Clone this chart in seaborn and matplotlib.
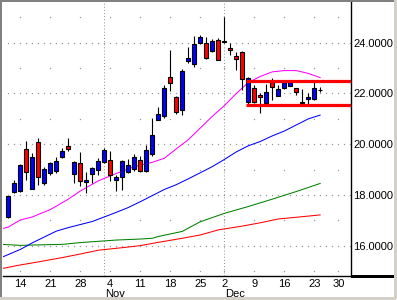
import numpy as np
import pandas as pd
import matplotlib
matplotlib.use("Agg")
import matplotlib.pyplot as plt
from matplotlib.lines import Line2D
import seaborn as sns

# ---------------- data ----------------
dates = ["2002-10-10", "2002-10-11", "2002-10-14", "2002-10-15", "2002-10-16", "2002-10-17",
         "2002-10-18", "2002-10-21", "2002-10-22", "2002-10-23", "2002-10-24", "2002-10-25",
         "2002-10-28", "2002-10-29", "2002-10-30", "2002-10-31", "2002-11-01", "2002-11-04",
         "2002-11-05", "2002-11-06", "2002-11-07", "2002-11-08", "2002-11-11", "2002-11-12",
         "2002-11-13", "2002-11-14", "2002-11-15", "2002-11-18", "2002-11-19", "2002-11-20",
         "2002-11-21", "2002-11-22", "2002-11-25", "2002-11-26", "2002-11-27", "2002-11-29",
         "2002-12-02", "2002-12-03", "2002-12-04", "2002-12-05", "2002-12-06", "2002-12-09",
         "2002-12-10", "2002-12-11", "2002-12-12", "2002-12-13", "2002-12-16", "2002-12-17",
         "2002-12-18", "2002-12-19", "2002-12-20", "2002-12-23", "2002-12-24"]
future_dates = ["2002-12-26", "2002-12-27", "2002-12-30", "2002-12-31"]

opens = [17.15, 18.13, 18.15, 19.80, 18.25, 20.08, 18.46, 18.86, 18.96, 19.49, 19.93, 18.82,
         19.25, 18.50, 18.82, 18.99, 19.29, 19.38, 18.59, 18.72, 18.92, 19.02, 19.38, 18.96,
         19.62, 20.96, 21.11, 22.64, 21.85, 21.35, 23.28, 23.15, 23.98, 24.00, 23.69, 24.11,
         24.04, 23.78, 23.48, 23.62, 21.65, 22.20, 21.94, 21.64, 22.44, 21.91, 22.20, 22.30,
         22.20, 21.63, 21.77, 21.77, 22.13]
highs = [17.98, 18.60, 19.22, 20.12, 19.65, 20.24, 19.12, 19.31, 19.51, 19.84, 20.24, 19.35,
         19.71, 18.90, 19.12, 19.45, 19.87, 19.75, 18.79, 19.38, 19.42, 19.60, 19.55, 19.97,
         21.02, 21.48, 22.33, 23.71, 21.90, 22.96, 23.84, 24.26, 24.30, 24.24, 24.13, 24.17,
         25.00, 23.98, 23.65, 23.69, 22.66, 22.33, 22.01, 22.37, 22.60, 22.33, 22.50, 22.50,
         22.20, 22.17, 22.01, 22.46, 22.27]
lows = [17.10, 18.07, 18.13, 18.59, 18.23, 18.40, 18.40, 18.79, 18.86, 19.45, 19.75, 18.46,
        18.37, 18.07, 18.46, 18.79, 19.25, 18.56, 18.17, 18.20, 18.85, 18.95, 18.90, 18.90,
        19.55, 20.94, 21.02, 22.11, 21.19, 21.15, 23.19, 23.06, 23.95, 23.35, 23.65, 23.30,
        23.98, 23.52, 22.93, 22.14, 21.52, 21.61, 21.22, 21.59, 21.74, 21.90, 22.18, 22.28,
        21.94, 21.55, 21.55, 21.75, 22.05]
closes = [17.96, 18.48, 19.19, 18.90, 19.49, 18.72, 19.02, 19.25, 19.35, 19.74, 19.83, 19.29,
          18.57, 18.59, 19.06, 19.34, 19.78, 18.79, 18.70, 19.34, 19.20, 19.51, 18.96, 19.78,
          20.37, 21.18, 22.20, 22.40, 21.26, 22.89, 23.39, 23.95, 24.21, 23.39, 24.07, 23.32,
          24.06, 23.70, 23.35, 22.56, 22.60, 21.65, 21.85, 22.07, 22.27, 22.17, 22.49, 22.46,
          22.07, 21.65, 21.87, 22.20, 22.15]

# moving averages: session number (0 = first candle) and value
ma_short_day = [-1, 0, 2, 4, 7, 10, 12, 15, 18, 21, 24, 26, 28, 30, 32, 34, 36, 38, 40, 42,
                44, 46, 48, 50, 52]
ma_short = [16.68, 16.74, 17.02, 17.14, 17.43, 17.84, 18.16, 18.56, 18.85, 19.12, 19.29,
            19.45, 19.82, 20.18, 20.64, 21.10, 21.52, 22.00, 22.43, 22.67, 22.85, 22.90,
            22.90, 22.79, 22.62]
ma_mid_day = [-1, 0, 2, 4, 6, 8, 10, 12, 14, 16, 18, 20, 22, 24, 26, 28, 30, 32, 34, 36, 38,
              40, 42, 44, 46, 48, 50, 52]
ma_mid = [15.56, 15.66, 15.86, 16.12, 16.35, 16.58, 16.72, 16.84, 16.96, 17.14, 17.32, 17.51,
          17.74, 17.98, 18.22, 18.41, 18.64, 18.88, 19.12, 19.40, 19.70, 19.94, 20.11, 20.33,
          20.52, 20.76, 21.00, 21.15]
ma_long_day = [-1, 2, 5, 9, 12, 15, 18, 22, 24, 25, 27, 29, 30, 32, 36, 40, 44, 48, 52]
ma_long = [16.06, 16.02, 16.04, 16.06, 16.13, 16.18, 16.23, 16.27, 16.30, 16.37, 16.47,
           16.57, 16.70, 16.95, 17.28, 17.55, 17.84, 18.14, 18.46]
ma_vlong_day = [-1, 2, 5, 9, 12, 15, 19, 22, 25, 29, 32, 35, 39, 42, 45, 49, 52]
ma_vlong = [15.11, 15.25, 15.37, 15.54, 15.68, 15.83, 15.93, 16.01, 16.14, 16.30, 16.43,
            16.63, 16.78, 16.91, 17.06, 17.15, 17.22]

box_top = 22.50
box_bottom = 21.53
box_start = "2002-12-06"

y_labels = [16, 18, 20, 22, 24]
y_minor = [15, 17, 19, 21, 23, 25]

# ---------------- drawing ----------------
sns.set_style("white")
plt.rcParams["font.family"] = ["Liberation Sans", "DejaVu Sans"]

W, H = 397, 300
fig = plt.figure(figsize=(W / 100, H / 100), dpi=100)
fig.patch.set_facecolor("white")
ax = fig.add_axes([3 / W, 24 / H, 348 / W, 274 / H])
ax.set_facecolor("white")

sessions = pd.to_datetime(dates + future_dates)
pos = np.arange(len(dates))
all_pos = np.arange(len(sessions))

x_lo, x_hi = -0.883, 57.117
ax.set_xlim(x_lo, x_hi)
ax.set_ylim(14.815, 25.60)

# grid dots
grid_col = "#9a9a9a"
monday_pos = [p for p, d in zip(all_pos, sessions) if d.weekday() == 0]
dense_x = np.arange(0, 58)
for v in y_labels:
    ax.plot(dense_x, [v] * len(dense_x), ls="none", marker="s", ms=0.9, mew=0,
            color=grid_col, zorder=0)
for v in y_minor:
    ax.plot(monday_pos, [v] * len(monday_pos), ls="none", marker="s", ms=0.9, mew=0,
            color=grid_col, zorder=0)
month_pos = [p for p in all_pos[1:] if sessions[p].month != sessions[p - 1].month]
for p in month_pos:
    ax.axvline(p, color=grid_col, lw=0.75, ls=(0, (1, 2)), zorder=0)

# moving averages
for days, vals, col in [(ma_vlong_day, ma_vlong, "#ff0000"),
                        (ma_long_day, ma_long, "#008000"),
                        (ma_mid_day, ma_mid, "#0000ff"),
                        (ma_short_day, ma_short, "#ff00ff")]:
    df = pd.DataFrame({"day": days, "value": vals})
    sns.lineplot(data=df, x="day", y="value", color=col, lw=0.75, ax=ax, zorder=2)

# candles
o = np.array(opens); c = np.array(closes)
ax.vlines(pos, lows, highs, color="black", lw=0.8, zorder=3)
up = c >= o
body_h = np.maximum(np.abs(c - o), 0.004)
ax.bar(pos, body_h, bottom=np.minimum(o, c), width=0.68,
       color=np.where(up, "#0000ff", "#ff0000"), edgecolor="black", linewidth=0.8, zorder=4)

# support / resistance box
bx = dates.index(box_start) - 0.35
ax.hlines([box_top, box_bottom], bx, x_hi, color="#ff0000", lw=2.3, zorder=5)

# axes styling
for s in ["top", "left"]:
    ax.spines[s].set_visible(False)
for s in ["right", "bottom"]:
    ax.spines[s].set_color("black")
    ax.spines[s].set_linewidth(1.0)
ax.yaxis.tick_right()
ax.set_yticks(y_labels, [f"{v:.4f}" for v in y_labels])
ax.tick_params(axis="y", length=0, pad=1.6, labelsize=8, colors="black")
ax.set_xticks(monday_pos, [str(sessions[p].day) for p in monday_pos])
ax.tick_params(axis="x", length=0, pad=2.4, labelsize=8, colors="black")
ax.set_xlabel("")
ax.set_ylabel("")
for p in month_pos:
    ax.annotate(sessions[p].strftime("%b"), xy=(p, 0), xycoords=ax.get_xaxis_transform(),
                xytext=(0.7, -14.9), textcoords="offset points",
                ha="left", va="baseline", fontsize=8, color="black", annotation_clip=False)

# frame decorations
def fline(x0, y0, x1, y1, col, lw):
    fig.add_artist(Line2D([x0 / W, x1 / W], [1 - y0 / H, 1 - y1 / H], color=col, lw=lw,
                          antialiased=False))

fline(351, 276.3, 395, 276.3, "black", 1.0)
fline(0, 0.7, W, 0.7, "#808080", 1.4)
fline(0.7, 0, 0.7, H, "#808080", 1.4)
fline(394.5, 0, 394.5, 297.5, "#d4d0c8", 1.0)
fline(0, 297.5, 395, 297.5, "#d4d0c8", 1.0)

fig.savefig("out.png", dpi=100)
